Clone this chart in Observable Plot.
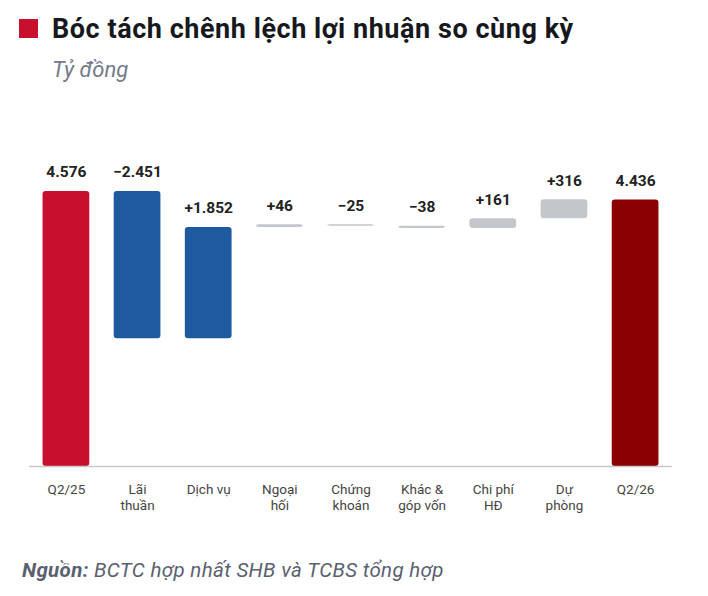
<!DOCTYPE html>
<html>
<head>
<meta charset="utf-8">
<script src="https://cdn.jsdelivr.net/npm/d3@7"></script>
<script src="https://cdn.jsdelivr.net/npm/@observablehq/plot@0.6"></script>
<style>
  html, body { margin: 0; padding: 0; background: #fff; }
  body { width: 708px; height: 596px; position: relative; font-family: Roboto, "Noto Sans", sans-serif; overflow: hidden; }
  #marker { position: absolute; left: 19px; top: 19px; width: 19px; height: 19px; background: #c8102e; }
  #title { position: absolute; left: 52px; top: 11px; font-size: 27px; font-weight: 700; letter-spacing: 0.55px; color: #16181d; line-height: 36px; white-space: nowrap; }
  #subtitle { position: absolute; left: 52px; top: 56.5px; font-size: 22px; font-style: italic; color: #737a8a; line-height: 26px; }
  #chart { position: absolute; left: 0; top: 100px; }
  #caption { position: absolute; left: 22px; top: 558px; font-size: 20.5px; font-style: italic; letter-spacing: 0.35px; color: #5b6070; line-height: 24px; white-space: nowrap; }
  #caption b { font-weight: 700; }
</style>
</head>
<body>
<div id="marker"></div>
<div id="title">Bóc tách chênh lệch lợi nhuận so cùng kỳ</div>
<div id="subtitle">Tỷ đồng</div>
<div id="chart"></div>
<div id="caption"><b>Nguồn:</b> BCTC hợp nhất SHB và TCBS tổng hợp</div>
<script>
const categories = ["Q2/25", "Lãi thuần", "Dịch vụ", "Ngoại hối", "Chứng khoán", "Khác & góp vốn", "Chi phí HĐ", "Dự phòng", "Q2/26"];
const tickLabels = ["Q2/25", "Lãi\nthuần", "Dịch vụ", "Ngoại\nhối", "Chứng\nkhoán", "Khác &\ngóp vốn", "Chi phí\nHĐ", "Dự\nphòng", "Q2/26"];
const values = [4576, -2451, 1852, 46, -25, -38, 161, 316, 4436];
const kinds = ["start", "major", "major", "minor", "minor", "minor", "minor", "minor", "end"];
const valueLabels = ["4.576", "−2.451", "+1.852", "+46", "−25", "−38", "+161", "+316", "4.436"];
const kindColors = {start: "#c8102e", major: "#1f5aa0", minor: "#c3c7cc", end: "#8b0000"};

let running = 0;
const rows = categories.map((c, i) => {
  let y1, y2;
  if (kinds[i] === "start" || kinds[i] === "end") {
    y1 = 0; y2 = values[i]; running = values[i];
  } else {
    y1 = running; y2 = running + values[i]; running = y2;
  }
  return {cat: c, y1, y2, top: Math.max(y1, y2), kind: kinds[i], label: valueLabels[i], tick: tickLabels[i]};
});
const tickMap = Object.fromEntries(rows.map(d => [d.cat, d.tick]));

const chart = Plot.plot({
  width: 708,
  height: 420,
  marginTop: 65.5,
  marginBottom: 54,
  marginLeft: 29.3,
  marginRight: 36.3,
  style: {fontFamily: "Roboto, sans-serif", background: "transparent"},
  x: {domain: categories, paddingInner: 0.343, paddingOuter: 0.186, round: false, label: null},
  y: {domain: [0, 5000], axis: null},
  color: {domain: Object.keys(kindColors), range: Object.values(kindColors)},
  marks: [
    Plot.axisX({tickSize: 0, tickPadding: 16.5, tickFormat: d => tickMap[d], fontSize: 13.5, lineHeight: 1.18, fill: "#444", label: null}),
    Plot.barY(rows, {x: "cat", y1: "y1", y2: "y2", fill: "kind", rx: 3}),
    Plot.ruleY([0], {stroke: "#c8c8c8", strokeWidth: 1.5}),
    Plot.text(rows, {x: "cat", y: "top", text: "label", dy: -19, fontSize: 15.5, fontWeight: 700, fill: "#222"})
  ]
});
document.getElementById("chart").appendChild(chart);
</script>
</body>
</html>
